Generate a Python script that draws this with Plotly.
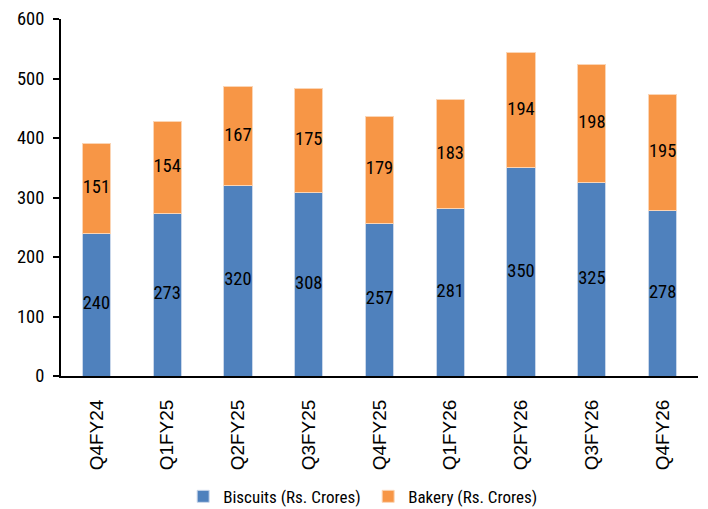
import plotly.graph_objects as go

quarters = ["Q4FY24", "Q1FY25", "Q2FY25", "Q3FY25", "Q4FY25", "Q1FY26", "Q2FY26", "Q3FY26", "Q4FY26"]
biscuits = [240, 273, 320, 308, 257, 281, 350, 325, 278]
bakery = [151, 154, 167, 175, 179, 183, 194, 198, 195]

COND = "Roboto Condensed, Liberation Sans Narrow, sans-serif"

fig = go.Figure()
fig.add_trace(go.Bar(
    x=quarters, y=biscuits, name="Biscuits (Rs. Crores)",
    marker=dict(color="#4F81BD", line=dict(color="#C9D7EA", width=1)),
))
fig.add_trace(go.Bar(
    x=quarters, y=bakery, name="Bakery (Rs. Crores)",
    marker=dict(color="#F79646", line=dict(color="#FBD5B5", width=1)),
))

# data labels at segment middles
label_x = quarters + quarters
label_y = [b / 2 for b in biscuits] + [b + k / 2 for b, k in zip(biscuits, bakery)]
label_t = [str(v) for v in biscuits + bakery]
fig.add_trace(go.Scatter(
    x=label_x, y=label_y, text=label_t, mode="text", showlegend=False, hoverinfo="skip",
    textfont=dict(family=COND, size=18.5, color="black"),
))

fig.update_layout(
    barmode="stack",
    bargap=0.6,
    width=708, height=509,
    margin=dict(l=61, r=10, t=19, b=133, autoexpand=False),
    plot_bgcolor="white", paper_bgcolor="white",
    legend=dict(orientation="h", xref="container", x=0.52, xanchor="center",
                yref="container", y=0.024, yanchor="middle",
                font=dict(family=COND, size=17, color="black"),
                traceorder="normal", itemwidth=30, entrywidth=140),
    xaxis=dict(showline=True, linecolor="black", linewidth=2, ticks="outside", ticklen=14, tickcolor="rgba(0,0,0,0)",
               tickangle=-90, automargin=False,
               tickfont=dict(family="Liberation Sans, Arial, sans-serif", size=19, color="black")),
    yaxis=dict(range=[0, 600], dtick=100, showline=True, linecolor="black", linewidth=2,
               ticks="outside", ticklen=6, tickcolor="black", tickwidth=1.5, showgrid=False, zeroline=False,
               automargin=False, ticklabelstandoff=5,
               tickfont=dict(family=COND, size=18.5, color="black")),
)

fig.write_html("out.html")
